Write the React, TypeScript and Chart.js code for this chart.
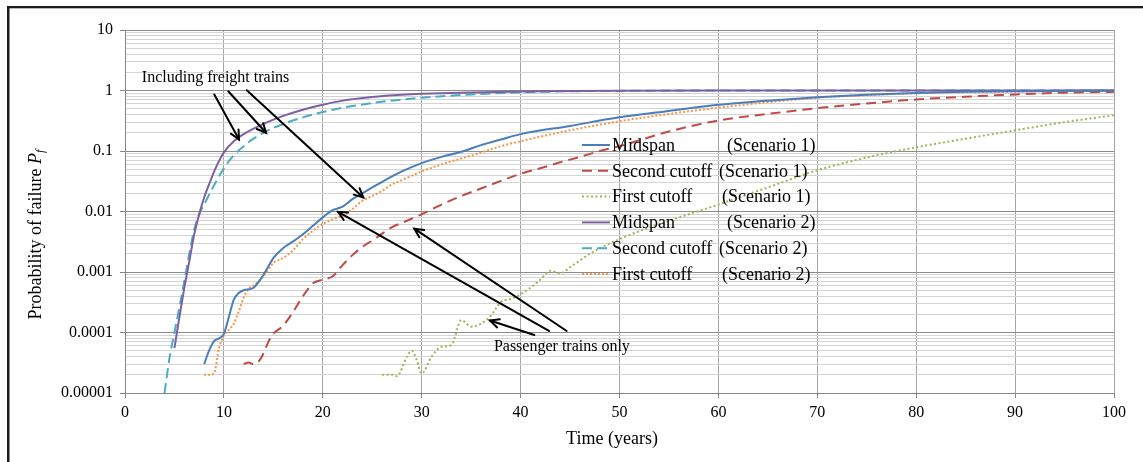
import React, { useEffect, useRef } from 'react';
import { Chart, registerables } from 'chart.js';

Chart.register(...registerables);

// ---------- DATA ----------
const tMidspan1 = [8, 8.5, 9, 9.5, 10, 10.5, 11, 11.5, 12, 13, 14, 15, 16, 17, 18, 19, 20, 21, 22, 23, 24, 25, 26, 27, 28, 30, 32, 34, 36, 38, 40, 45, 50, 55, 60, 65, 70, 75, 80, 85, 90, 95, 100];
const pMidspan1 = [3e-5, 5e-5, 7.2e-5, 8e-5, 9.5e-5, 1.8e-4, 3.5e-4, 4.5e-4, 5e-4, 5.5e-4, 9e-4, 1.7e-3, 2.5e-3, 3.2e-3, 4.2e-3, 5.8e-3, 8e-3, 0.0105, 0.012, 0.016, 0.02, 0.025, 0.031, 0.038, 0.046, 0.063, 0.08, 0.097, 0.125, 0.155, 0.19, 0.26, 0.36, 0.46, 0.58, 0.68, 0.77, 0.85, 0.91, 0.95, 0.97, 0.99, 1.0];

const tSecond1 = [12, 12.5, 13, 13.5, 14, 14.5, 15, 16, 17, 18, 19, 20, 21, 22, 23, 24, 25, 26, 27, 28, 30, 32, 34, 36, 38, 40, 42, 44, 46, 48, 50, 55, 60, 65, 70, 75, 80, 85, 90, 95, 100];
const pSecond1 = [3e-5, 3.2e-5, 3e-5, 3.3e-5, 4.5e-5, 7e-5, 9.5e-5, 1.3e-4, 2.2e-4, 4e-4, 6.5e-4, 7.5e-4, 8.5e-4, 1.3e-3, 1.9e-3, 2.6e-3, 3.3e-3, 4.3e-3, 5.5e-3, 6.5e-3, 9e-3, 0.013, 0.018, 0.024, 0.032, 0.042, 0.052, 0.065, 0.08, 0.1, 0.12, 0.21, 0.32, 0.41, 0.51, 0.61, 0.71, 0.79, 0.86, 0.92, 0.95];

const tFirst1 = [26, 27, 27.5, 28.5, 29, 29.5, 30, 31, 32, 33, 34, 35, 36, 37, 38, 39, 40, 41, 42, 43, 44, 45, 47, 50, 55, 60, 65, 70, 75, 80, 85, 90, 95, 100];
const pFirst1 = [2e-5, 2e-5, 1.9e-5, 4e-5, 5e-5, 3.5e-5, 2.1e-5, 4e-5, 5.8e-5, 6.2e-5, 1.6e-4, 1.25e-4, 1.4e-4, 1.9e-4, 3.2e-4, 3.6e-4, 4.3e-4, 5.5e-4, 7.5e-4, 1.05e-3, 9.5e-4, 1.2e-3, 2e-3, 3.5e-3, 7e-3, 0.013, 0.025, 0.048, 0.078, 0.115, 0.16, 0.22, 0.3, 0.39];

const tMidspan2 = [5, 5.5, 6, 6.5, 7, 7.5, 8, 8.5, 9, 9.5, 10, 11, 12, 13, 14, 15, 16, 18, 20, 22, 25, 28, 30, 35, 40, 45, 50, 60, 70, 80, 90, 100];
const pMidspan2 = [5.5e-5, 1.8e-4, 5.5e-4, 1.5e-3, 4.2e-3, 9e-3, 0.017, 0.028, 0.045, 0.068, 0.095, 0.145, 0.19, 0.235, 0.28, 0.33, 0.38, 0.48, 0.58, 0.68, 0.78, 0.85, 0.88, 0.93, 0.965, 0.98, 0.99, 1.0, 1.0, 1.0, 1.0, 1.0];

const tSecond2 = [4, 4.5, 5, 5.5, 6, 6.5, 7, 7.5, 8, 9, 10, 11, 12, 13, 14, 15, 16, 18, 20, 22, 25, 28, 30, 35, 40, 45, 50, 60, 70, 80, 90, 100];
const pSecond2 = [1e-5, 3.8e-5, 1e-4, 2.6e-4, 7e-4, 2e-3, 5e-3, 9e-3, 0.013, 0.027, 0.052, 0.085, 0.12, 0.16, 0.2, 0.24, 0.28, 0.36, 0.44, 0.52, 0.62, 0.71, 0.76, 0.86, 0.93, 0.97, 0.985, 1.0, 1.0, 1.0, 1.0, 1.0];

const tFirst2 = [8, 8.5, 9, 9.5, 10, 10.5, 11, 11.5, 12, 12.5, 13, 14, 15, 16, 17, 18, 19, 20, 21, 22, 23, 24, 25, 26, 27, 28, 30, 32, 34, 36, 38, 40, 45, 50, 55, 60, 65, 70, 75, 80, 85, 90, 95, 100];
const pFirst2 = [2e-5, 2e-5, 2.1e-5, 5.5e-5, 9e-5, 1.1e-4, 1.4e-4, 2.2e-4, 3.8e-4, 5.3e-4, 6e-4, 8.5e-4, 1.4e-3, 1.7e-3, 2.3e-3, 3.5e-3, 4.8e-3, 6.2e-3, 7.5e-3, 8.5e-3, 0.011, 0.015, 0.018, 0.022, 0.028, 0.033, 0.046, 0.06, 0.075, 0.094, 0.12, 0.145, 0.22, 0.31, 0.41, 0.52, 0.64, 0.76, 0.84, 0.9, 0.94, 0.96, 0.98, 1.0];

const seriesNames = ['Midspan', 'Second cutoff', 'First cutoff', 'Midspan', 'Second cutoff', 'First cutoff'];
const seriesScenarios = ['(Scenario 1)', '(Scenario 1)', '(Scenario 1)', '(Scenario 2)', '(Scenario 2)', '(Scenario 2)'];

const xTicks = [0, 10, 20, 30, 40, 50, 60, 70, 80, 90, 100];
const yMajorValues = [1e-5, 1e-4, 1e-3, 1e-2, 1e-1, 1, 10];
const yMajorLabels = ['0.00001', '0.0001', '0.001', '0.01', '0.1', '1', '10'];

const xTitle = 'Time (years)';
const yTitle = 'Probability of failure ';

// annotations in data coordinates [t, P]
const freightText = { label: 'Including freight trains', t: 1.7, p: 1.64 };
const freightArrows = [
  [[9.03, 0.86], [11.53, 0.155]],
  [[10.44, 0.973], [14.26, 0.2]],
  [[12.31, 1.01], [24.1, 0.017]],
];
const passengerText = { label: 'Passenger trains only', t: 37.3, p: 5.85e-5 };
const passengerArrows = [
  [[42.87, 1.06e-4], [21.54, 9.9e-3]],
  [[44.66, 1.06e-4], [29.25, 5.2e-3]],
  [[41.39, 9.1e-5], [36.9, 1.58e-4]],
];

// ---------- STYLE ----------
const FONT = '"Liberation Serif", "Times New Roman", serif';
const colors = ['#4a7ebb', '#be4b48', '#98b954', '#7d60a0', '#4bacc6', '#f79646'];
const dashes = [[], [10, 6], [2, 2.5], [], [10, 5], [2, 2]];

const isMajor = (v: number) => {
  const l = Math.log10(v);
  return Math.abs(l - Math.round(l)) < 1e-6;
};

const framePlugin = {
  id: 'frame',
  beforeDraw(chart: any) {
    const c = chart.ctx;
    c.save();
    c.fillStyle = '#ffffff';
    c.fillRect(0, 0, chart.width, chart.height);
    c.fillStyle = '#1c1c1c';
    c.fillRect(7, 6, 2.5, chart.height - 6);
    c.fillRect(7, 6, chart.width - 7, 2.3);
    c.restore();
  },
};

function drawArrow(c: CanvasRenderingContext2D, x1: number, y1: number, x2: number, y2: number) {
  c.beginPath();
  c.moveTo(x1, y1);
  c.lineTo(x2, y2);
  c.stroke();
  const a = Math.atan2(y2 - y1, x2 - x1);
  const L = 10;
  const w = 0.45;
  c.beginPath();
  c.moveTo(x2 - L * Math.cos(a - w), y2 - L * Math.sin(a - w));
  c.lineTo(x2, y2);
  c.lineTo(x2 - L * Math.cos(a + w), y2 - L * Math.sin(a + w));
  c.stroke();
}

const overlayPlugin = {
  id: 'overlay',
  afterDatasetsDraw(chart: any) {
    const c: CanvasRenderingContext2D = chart.ctx;
    const xs = chart.scales.x;
    const ys = chart.scales.y;
    const area = chart.chartArea;
    c.save();

    // annotations
    c.strokeStyle = '#000';
    c.lineWidth = 2;
    c.lineCap = 'round';
    c.lineJoin = 'miter';
    [...freightArrows, ...passengerArrows].forEach(([a, b]) => {
      drawArrow(c, xs.getPixelForValue(a[0]), ys.getPixelForValue(a[1]), xs.getPixelForValue(b[0]), ys.getPixelForValue(b[1]));
    });
    c.fillStyle = '#000';
    c.font = `16px ${FONT}`;
    c.textAlign = 'left';
    c.textBaseline = 'middle';
    [freightText, passengerText].forEach((t) => {
      c.fillText(t.label, xs.getPixelForValue(t.t), ys.getPixelForValue(t.p));
    });

    // legend
    const lx = area.left + 457;
    const ly0 = area.top + 115;
    const step = 25.8;
    chart.data.datasets.forEach((ds: any, i: number) => {
      const y = ly0 + i * step;
      c.save();
      c.strokeStyle = ds.borderColor;
      c.lineWidth = 2;
      c.lineCap = 'butt';
      c.setLineDash(ds.borderDash || []);
      c.beginPath();
      c.moveTo(lx, y);
      c.lineTo(lx + 28, y);
      c.stroke();
      c.restore();
      c.fillStyle = '#000';
      c.font = `18px ${FONT}`;
      c.textAlign = 'left';
      c.textBaseline = 'middle';
      c.fillText(seriesNames[i], lx + 30, y + 1);
      const off = seriesNames[i] === 'Midspan' ? 145 : seriesNames[i] === 'Second cutoff' ? 137 : 140;
      c.fillText(seriesScenarios[i], lx + off, y + 1);
    });

    // axis titles
    c.font = `18px ${FONT}`;
    c.textAlign = 'center';
    c.textBaseline = 'middle';
    c.fillText(xTitle, 612, 439);

    c.translate(35, 234.5);
    c.rotate(-Math.PI / 2);
    c.font = `18px ${FONT}`;
    const w1 = c.measureText(yTitle).width;
    c.font = `italic 18px ${FONT}`;
    const w2 = c.measureText('P').width;
    c.font = `italic 12px ${FONT}`;
    const w3 = c.measureText('f').width;
    const total = w1 + w2 + w3;
    let x = -total / 2;
    c.textAlign = 'left';
    c.textBaseline = 'alphabetic';
    c.font = `18px ${FONT}`;
    c.fillText(yTitle, x, 6);
    x += w1;
    c.font = `italic 18px ${FONT}`;
    c.fillText('P', x, 6);
    x += w2;
    c.font = `italic 12px ${FONT}`;
    c.fillText('f', x, 9);
    c.restore();
  },
};

const mk = (t: number[], p: number[]) => t.map((v, i) => ({ x: v, y: p[i] }));

export default function App() {
  const ref = useRef<HTMLCanvasElement | null>(null);
  useEffect(() => {
    if (!ref.current) return;
    const dataSets = [
      mk(tMidspan1, pMidspan1),
      mk(tSecond1, pSecond1),
      mk(tFirst1, pFirst1),
      mk(tMidspan2, pMidspan2),
      mk(tSecond2, pSecond2),
      mk(tFirst2, pFirst2),
    ];
    const chart = new Chart(ref.current, {
      type: 'line',
      data: {
        datasets: dataSets.map((d, i) => ({
          label: `${seriesNames[i]} ${seriesScenarios[i]}`,
          data: d,
          borderColor: colors[i],
          backgroundColor: colors[i],
          borderWidth: 2,
          borderDash: dashes[i],
          pointRadius: 0,
          fill: false,
          cubicInterpolationMode: 'monotone',
          borderCapStyle: 'butt',
        })),
      },
      options: {
        animation: false,
        responsive: false,
        devicePixelRatio: 1,
        layout: { padding: { left: 0, right: 29, top: 30, bottom: 0 } },
        plugins: {
          legend: { display: false },
          tooltip: { enabled: false },
          title: { display: false },
        },
        scales: {
          x: {
            type: 'linear',
            min: 0,
            max: 100,
            afterBuildTicks: (s: any) => {
              s.ticks = xTicks.map((v) => ({ value: v }));
            },
            afterFit: (s: any) => {
              s.height = 69;
            },
            ticks: {
              autoSkip: false,
              maxRotation: 0,
              padding: 5,
              color: '#000',
              font: { family: FONT, size: 16 },
            },
            grid: {
              color: '#a6a6a6',
              lineWidth: 1,
              tickLength: 5,
              tickColor: '#868686',
            },
            border: { display: true, color: '#868686' },
          },
          y: {
            type: 'logarithmic',
            min: 1e-5,
            max: 10,
            afterBuildTicks: (s: any) => {
              const ticks: any[] = [];
              for (let i = 0; i < yMajorValues.length; i++) {
                const m = yMajorValues[i];
                ticks.push({ value: m });
                if (i < yMajorValues.length - 1) {
                  for (let k = 2; k <= 9; k++) ticks.push({ value: m * k });
                }
              }
              s.ticks = ticks;
            },
            afterFit: (s: any) => {
              s.width = 125;
            },
            ticks: {
              autoSkip: false,
              padding: 7,
              color: '#000',
              font: { family: FONT, size: 16 },
              callback: (v: any) => {
                const idx = yMajorValues.findIndex((m) => Math.abs(Math.log10(m) - Math.log10(v)) < 1e-6);
                return idx >= 0 ? yMajorLabels[idx] : '';
              },
            },
            grid: {
              color: (ctx: any) => (ctx.tick && isMajor(ctx.tick.value) ? '#8c8c8c' : '#d4d4d4'),
              tickColor: (ctx: any) => (ctx.tick && isMajor(ctx.tick.value) ? '#868686' : 'rgba(0,0,0,0)'),
              lineWidth: 1,
              tickLength: 5,
            },
            border: { display: true, color: '#868686' },
          },
        },
      } as any,
      plugins: [framePlugin, overlayPlugin],
    });
    return () => chart.destroy();
  }, []);
  return (
    <div style={{ position: 'absolute', left: 0, top: 0, width: 1143, height: 462 }}>
      <canvas ref={ref} width={1143} height={462} style={{ display: 'block', width: 1143, height: 462 }} />
    </div>
  );
}
